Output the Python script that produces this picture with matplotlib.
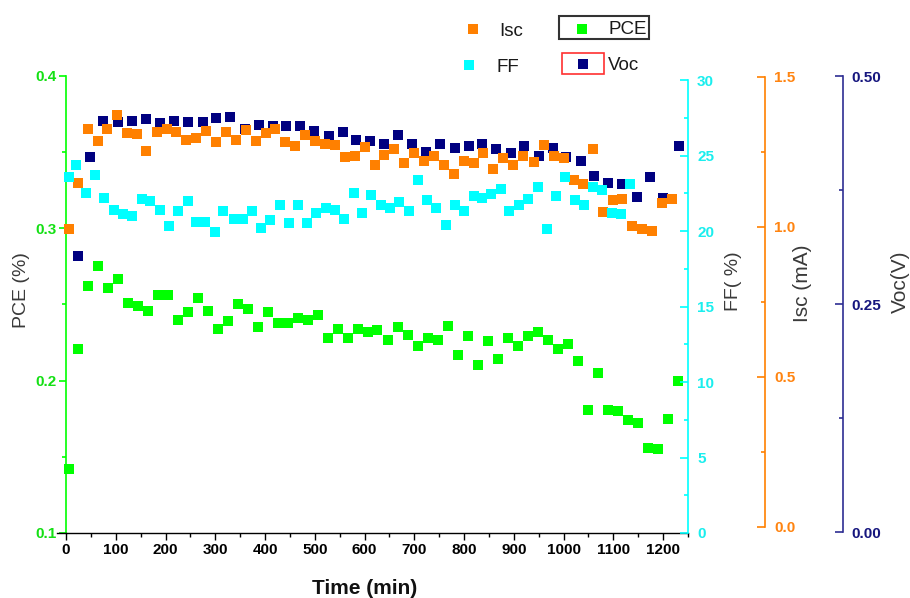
import matplotlib
matplotlib.use("Agg")
import matplotlib.pyplot as plt
from matplotlib.ticker import MultipleLocator, FormatStrFormatter
from matplotlib.lines import Line2D
from matplotlib.patches import Rectangle

plt.rcParams['font.family'] = ['Liberation Sans', 'DejaVu Sans']

# ---- data ----
t_pce = [7, 24, 44, 64, 84, 104, 124, 144, 164, 185, 205, 225, 245, 265, 285,
         305, 325, 345, 365, 386, 406, 426, 446, 466, 486, 506, 526, 546, 566,
         587, 607, 626, 647, 667, 687, 707, 727, 747, 767, 788, 808, 828, 848,
         868, 888, 909, 928, 949, 969, 988, 1008, 1029, 1049, 1069, 1089, 1109,
         1129, 1149, 1169, 1189, 1210, 1230]
pce = [0.142, 0.221, 0.262, 0.275, 0.261, 0.267, 0.251, 0.249, 0.246, 0.256,
       0.256, 0.240, 0.245, 0.254, 0.246, 0.234, 0.239, 0.250, 0.247, 0.235,
       0.245, 0.238, 0.238, 0.241, 0.240, 0.243, 0.228, 0.234, 0.228, 0.234,
       0.232, 0.233, 0.227, 0.235, 0.230, 0.223, 0.228, 0.227, 0.236, 0.217,
       0.229, 0.210, 0.226, 0.214, 0.228, 0.223, 0.229, 0.232, 0.227, 0.221,
       0.224, 0.213, 0.181, 0.205, 0.181, 0.180, 0.174, 0.172, 0.156, 0.155,
       0.175, 0.200]

t_isc = [7, 24, 44, 64, 83, 103, 123, 143, 161, 182, 202, 222, 242, 261, 281,
         302, 322, 342, 362, 382, 402, 421, 441, 461, 481, 501, 521, 540, 560,
         581, 601, 620, 640, 660, 680, 700, 720, 739, 759, 779, 799, 819, 838,
         858, 878, 899, 919, 940, 960, 980, 1000, 1020, 1039, 1059, 1079, 1099,
         1118, 1138, 1158, 1177, 1197, 1217]
isc = [0.994, 1.146, 1.328, 1.286, 1.328, 1.372, 1.314, 1.310, 1.253, 1.317,
       1.326, 1.317, 1.290, 1.296, 1.320, 1.283, 1.317, 1.290, 1.323, 1.286,
       1.312, 1.326, 1.283, 1.270, 1.308, 1.286, 1.277, 1.274, 1.232, 1.237,
       1.266, 1.207, 1.240, 1.261, 1.214, 1.246, 1.220, 1.237, 1.207, 1.176,
       1.220, 1.212, 1.246, 1.192, 1.231, 1.208, 1.237, 1.218, 1.273, 1.237,
       1.231, 1.157, 1.143, 1.259, 1.049, 1.089, 1.092, 1.004, 0.992, 0.988,
       1.081, 1.094]

t_ff = [7, 20, 40, 58, 76, 96, 114, 132, 152, 169, 189, 207, 226, 245, 262,
        280, 300, 316, 337, 355, 373, 392, 410, 431, 448, 467, 485, 503, 523,
        540, 559, 578, 595, 613, 633, 651, 670, 689, 707, 726, 744, 764, 781,
        800, 819, 837, 855, 874, 891, 911, 928, 949, 967, 985, 1003, 1022,
        1041, 1060, 1078, 1097, 1116, 1133]
ff = [23.6, 24.4, 22.5, 23.7, 22.2, 21.4, 21.1, 21.0, 22.1, 22.0, 21.4, 20.3,
      21.3, 22.0, 20.6, 20.6, 19.95, 21.3, 20.8, 20.8, 21.3, 20.2, 20.7, 21.7,
      20.5, 21.7, 20.5, 21.2, 21.5, 21.4, 20.8, 22.5, 21.2, 22.4, 21.7, 21.5,
      21.9, 21.3, 23.4, 22.05, 21.5, 20.4, 21.7, 21.3, 22.3, 22.2, 22.45, 22.8,
      21.3, 21.7, 22.1, 22.9, 20.1, 22.3, 23.6, 22.05, 21.7, 22.9, 22.7, 21.2,
      21.1, 23.1]

t_voc = [25, 48, 75, 104, 132, 161, 188, 218, 246, 275, 301, 330, 359, 387,
         415, 442, 471, 499, 528, 556, 583, 611, 640, 668, 696, 724, 752, 781,
         809, 837, 865, 894, 921, 950, 978, 1005, 1034, 1061, 1089, 1117, 1147,
         1174, 1199, 1231]
voc = [0.303, 0.411, 0.451, 0.450, 0.451, 0.453, 0.449, 0.451, 0.450, 0.450,
       0.454, 0.455, 0.442, 0.446, 0.445, 0.445, 0.445, 0.440, 0.434, 0.439,
       0.430, 0.429, 0.426, 0.435, 0.425, 0.417, 0.425, 0.421, 0.423, 0.425,
       0.420, 0.416, 0.423, 0.412, 0.421, 0.411, 0.407, 0.390, 0.383, 0.382,
       0.367, 0.389, 0.366, 0.423]

GREEN = '#00ff00'
CYAN = '#00ffff'
ORANGE = '#ff8000'
NAVY = '#000080'
GREEN_TXT = '#14e014'
CYAN_TXT = '#1aeeee'
ORANGE_TXT = '#ff8410'
NAVY_TXT = '#16167e'
LABEL_GRAY = '#3a3a3a'

W, H = 910, 598
fig = plt.figure(figsize=(W / 100, H / 100), dpi=100)


def fx(px):
    return px / W


def fy(py):
    return 1 - py / H


rect = [fx(66), fy(533), (688 - 66) / W, (533 - 76) / H]
ax = fig.add_axes(rect)
ax_voc = ax.twinx()
ax_isc = ax.twinx()
ax_ff = ax.twinx()

MS = 7.8
ax.plot(t_pce, pce, 's', color=GREEN, ms=MS, mew=0, clip_on=False)
ax_voc.plot(t_voc, voc, 's', color=NAVY, ms=MS, mew=0, clip_on=False)
ax_isc.plot(t_isc, isc, 's', color=ORANGE, ms=MS, mew=0, clip_on=False)
ax_ff.plot(t_ff, ff, 's', color=CYAN, ms=MS, mew=0, clip_on=False)

tick_font = dict(family='Liberation Sans', weight='bold', size=11)

# host axes: time and PCE
ax.set_xlim(0, 1250)
ax.set_ylim(0.1, 0.4)
for s in ('top', 'right'):
    ax.spines[s].set_visible(False)
ax.spines['left'].set_color(GREEN)
ax.spines['left'].set_linewidth(1.2)
ax.spines['bottom'].set_color('black')
ax.spines['bottom'].set_linewidth(1.0)
ax.xaxis.set_major_locator(MultipleLocator(100))
ax.xaxis.set_minor_locator(MultipleLocator(50))
ax.yaxis.set_major_locator(MultipleLocator(0.1))
ax.yaxis.set_minor_locator(MultipleLocator(0.05))
ax.yaxis.set_major_formatter(FormatStrFormatter('%.1f'))
ax.tick_params(axis='x', which='major', direction='out', length=5, width=1,
               color='black', pad=2)
ax.tick_params(axis='x', which='minor', direction='out', length=3, width=1,
               color='black')
ax.tick_params(axis='y', which='major', direction='out', length=5, width=1.2,
               color=GREEN, labelcolor=GREEN_TXT, pad=1.5)
ax.tick_params(axis='y', which='minor', direction='out', length=3, width=1.2,
               color=GREEN)
for lab in ax.get_xticklabels() + ax.get_yticklabels():
    lab.set_fontproperties(tick_font)

# short stub of the time axis to the left of the PCE spine
fig.add_artist(Line2D([fx(57), fx(66)], [fy(533), fy(533)], color='black',
                      lw=1.0, transform=fig.transFigure))


def style_twin(a, pos, color, txtcolor, lims, major, minor, fmt, bounds=None,
               pad=7):
    for s in ('top', 'left', 'bottom'):
        a.spines[s].set_visible(False)
    a.spines['right'].set_position(('axes', pos))
    a.spines['right'].set_color(color)
    a.spines['right'].set_linewidth(1.2)
    if bounds is not None:
        a.spines['right'].set_bounds(*bounds)
    a.set_ylim(*lims)
    a.yaxis.set_major_locator(MultipleLocator(major))
    a.yaxis.set_minor_locator(MultipleLocator(minor))
    a.yaxis.set_major_formatter(FormatStrFormatter(fmt))
    a.tick_params(axis='y', which='major', direction='in', length=6, width=1.2,
                  color=color, labelcolor=txtcolor, pad=pad)
    a.tick_params(axis='y', which='minor', direction='in', length=3, width=1.2,
                  color=color)
    for lab in a.get_yticklabels():
        lab.set_fontproperties(tick_font)
    a.patch.set_visible(False)


style_twin(ax_ff, 1.0, CYAN, CYAN_TXT, (0, 30.265), 5, 2.5, '%d',
           bounds=(0, 30), pad=6.5)
style_twin(ax_isc, (765 - 66) / 622, ORANGE, ORANGE_TXT, (-0.02, 1.5033),
           0.5, 0.25, '%.1f', bounds=(0, 1.5), pad=6.5)
style_twin(ax_voc, (843 - 66) / 622, '#2e2e92', NAVY_TXT, (-0.001, 0.5),
           0.25, 0.125, '%.2f', bounds=(0, 0.5), pad=6)

# axis titles
lab_kw = dict(rotation=90, ha='center', va='center', color=LABEL_GRAY)
fig.text(fx(22), fy(290), 'PCE (%)', fontsize=14, **lab_kw)
fig.text(fx(733), fy(281), 'FF( %)', fontsize=14, **lab_kw)
fig.text(fx(803), fy(283), 'Isc (mA)', fontsize=15, **lab_kw)
fig.text(fx(900), fy(282), 'Voc(V)', fontsize=15, **lab_kw)
fig.text(fx(365), fy(589), 'Time (min)', ha='center', va='center',
         color='#111111', fontsize=15, fontweight='bold')

# key at the top
def key_marker(px, py, color):
    fig.add_artist(Line2D([fx(px)], [fy(py)], marker='s', ms=7.4, mew=0,
                          color=color, transform=fig.transFigure))


key_txt = dict(fontsize=13.5, color='#1a1a1a', va='baseline', ha='left')
key_marker(473, 29, ORANGE)
fig.text(fx(499), fy(36.5), 'Isc', **key_txt)
key_marker(469, 65, CYAN)
fig.text(fx(497), fy(72), 'FF', **key_txt)

fig.add_artist(Rectangle((fx(559), fy(39)), (649 - 559) / W, 23 / H,
                         transform=fig.transFigure, fill=False,
                         edgecolor='#333333', linewidth=1.5))
key_marker(582, 29, GREEN)
fig.text(fx(609), fy(33.5), 'PCE', **key_txt)

fig.add_artist(Rectangle((fx(562), fy(74)), (604 - 562) / W, 21 / H,
                         transform=fig.transFigure, fill=False,
                         edgecolor='#ff3030', linewidth=1.2))
key_marker(583, 64, NAVY)
fig.text(fx(608), fy(70.5), 'Voc', **key_txt)

fig.savefig('out.png', dpi=100)
